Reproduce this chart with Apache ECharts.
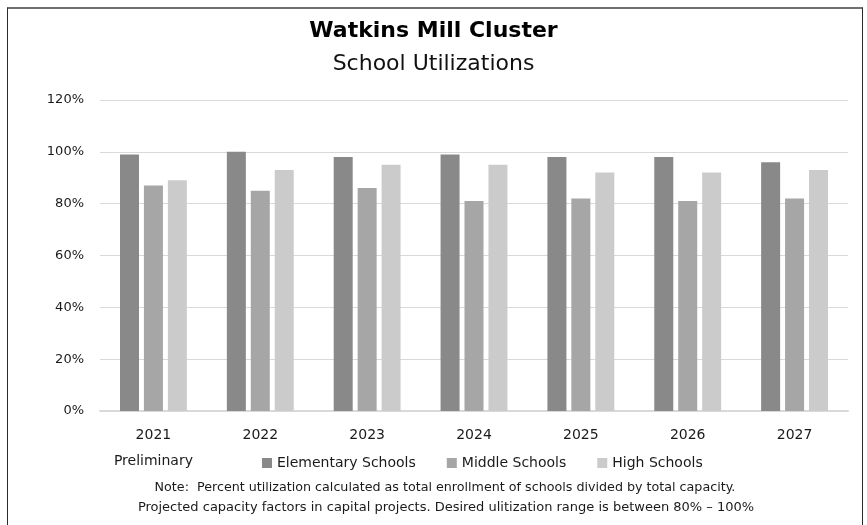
<!DOCTYPE html>
<html>
<head>
<meta charset="utf-8">
<script src="https://cdn.jsdelivr.net/npm/echarts@6/dist/echarts.min.js"></script>
<style>
  html, body { margin: 0; padding: 0; background: #ffffff; }
  #frame { position: absolute; left: 7px; top: 7px; width: 854px; height: 540px;
           border-top: 2px solid #6f6f6f; border-left: 1.5px solid #2a2a2a; border-right: 1.5px solid #2a2a2a; }
  #chart { position: absolute; left: 0; top: 0; width: 867px; height: 525px; }
</style>
</head>
<body>
<div id="frame"></div>
<div id="chart"></div>
<script>
const categories = ["2021\nPreliminary", "2022", "2023", "2024", "2025", "2026", "2027"];
const seriesNames = ["Elementary Schools", "Middle Schools", "High Schools"];
const elementary = [99, 100, 98, 99, 98, 98, 96];
const middle = [87, 85, 86, 81, 82, 81, 82];
const high = [89, 93, 95, 95, 92, 92, 93];
const yTicks = [0, 20, 40, 60, 80, 100, 120];
const noteLines = [
  "Note:  Percent utilization calculated as total enrollment of schools divided by total capacity.",
  "Projected capacity factors in capital projects. Desired ulitization range is between 80% \u2013 100%"
];

const colors = ["#898989", "#a6a6a6", "#cbcbcb"];
const font = "DejaVu Sans";

const chart = echarts.init(document.getElementById('chart'), null, { renderer: 'canvas' });
const mk = (name, data, i) => ({
  name: name, type: 'bar', data: data, barWidth: 19, barGap: '26%',
  itemStyle: { color: colors[i] }, animation: false
});
chart.setOption({
  animation: false,
  textStyle: { fontFamily: font },
  title: [
    { text: "Watkins Mill Cluster", left: 'center', top: 15,
      textStyle: { fontFamily: font, fontSize: 22, fontWeight: 'bold', color: '#000000' } },
    { text: "School Utilizations", left: 'center', top: 48,
      textStyle: { fontFamily: font, fontSize: 22, fontWeight: 'normal', color: '#111111' } }
  ],
  legend: {
    data: seriesNames, left: 257, top: 451, icon: 'rect', itemWidth: 10, itemHeight: 10,
    itemGap: 31, textStyle: { fontFamily: font, fontSize: 14, color: '#1a1a1a' }
  },
  grid: { left: 100, right: 19, top: 100, bottom: 114 },
  xAxis: {
    type: 'category', data: categories,
    axisLine: { lineStyle: { color: '#d9d9d9', width: 2 } },
    axisTick: { show: false },
    axisLabel: { fontFamily: font, fontSize: 14, color: '#1a1a1a', margin: 11, lineHeight: 26 }
  },
  yAxis: {
    type: 'value', min: yTicks[0], max: yTicks[yTicks.length - 1], interval: 20,
    axisLine: { show: false }, axisTick: { show: false },
    splitLine: { lineStyle: { color: '#d9d9d9', width: 1 } },
    axisLabel: { fontFamily: font, fontSize: 13, color: '#1a1a1a', margin: 16, formatter: v => v + '%' }
  },
  graphic: [
    { type: 'text', x: 445, y: 488, style: { text: noteLines[0], fontFamily: font, fontSize: 12.7, fill: '#1a1a1a', textAlign: 'center', textVerticalAlign: 'middle' } },
    { type: 'text', x: 446, y: 508, style: { text: noteLines[1], fontFamily: font, fontSize: 13, fill: '#1a1a1a', textAlign: 'center', textVerticalAlign: 'middle' } }
  ],
  series: [mk(seriesNames[0], elementary, 0), mk(seriesNames[1], middle, 1), mk(seriesNames[2], high, 2)]
});
</script>
</body>
</html>
